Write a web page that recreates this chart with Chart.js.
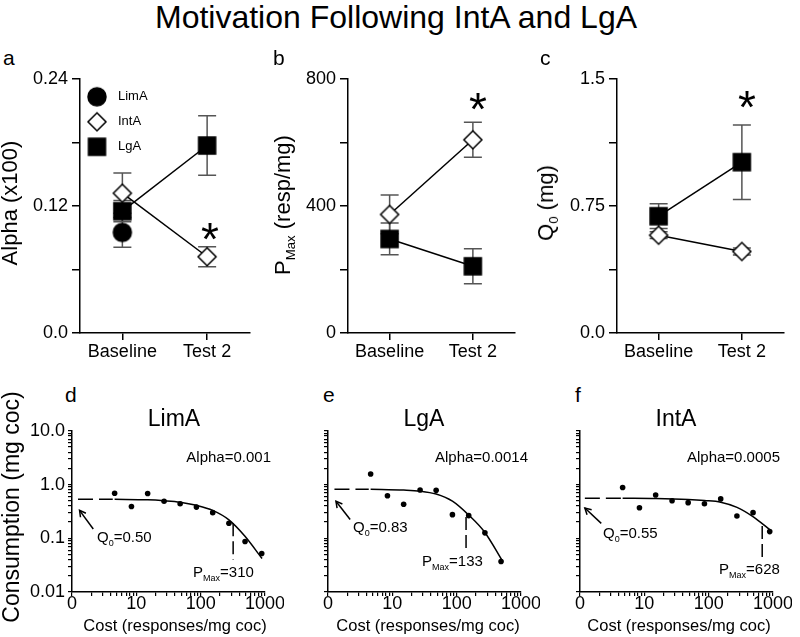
<!DOCTYPE html>
<html>
<head>
<meta charset="utf-8">
<script src="https://cdn.jsdelivr.net/npm/chart.js@4.4.1/dist/chart.umd.min.js"></script>
<style>
	body { margin: 0; background: #fff; }
	#figure { position: relative; width: 800px; height: 637px; overflow: hidden; font-family: "Liberation Sans", Arial, sans-serif; color: #000; }
	#figure canvas { position: absolute; }
	.txt { position: absolute; line-height: 1; white-space: nowrap; }
	.rot { position: absolute; line-height: 1; white-space: nowrap; transform: translate(-50%, -50%) rotate(-90deg); }
	.sub { font-size: 0.6em; position: relative; top: 0.4em; }
</style>
</head>
<body>
<div id="figure">
	<canvas id="panelA" width="240" height="306" style="left:20px;top:64px"></canvas>
	<canvas id="panelB" width="237" height="306" style="left:288px;top:64px"></canvas>
	<canvas id="panelC" width="237" height="306" style="left:557px;top:64px"></canvas>
	<canvas id="panelD" width="272" height="203" style="left:12px;top:417px"></canvas>
	<canvas id="panelE" width="222" height="203" style="left:318px;top:417px"></canvas>
	<canvas id="panelF" width="222" height="203" style="left:570px;top:417px"></canvas>
</div>
<script>
const family = '"Liberation Sans", Arial, sans-serif';

// top row: group means and SEM
const groups = ["Baseline", "Test 2"];
const alphaLimA = [0.095, null];
const alphaLimAErr = [0.014, null];
const alphaIntA = [0.132, 0.072];
const alphaIntAErr = [0.019, 0.0095];
const alphaLgA = [0.115, 0.177];
const alphaLgAErr = [0.01, 0.028];
const pmaxIntA = [373, 608];
const pmaxIntAErr = [61, 55];
const pmaxLgA = [296, 210];
const pmaxLgAErr = [50, 55];
const q0IntA = [0.577, 0.481];
const q0IntAErr = [0.02, 0.02];
const q0LgA = [0.689, 1.008];
const q0LgAErr = [0.073, 0.22];

const alphaTicks = [0, 0.06, 0.12, 0.18, 0.24];
const alphaTickLabels = ["0.0", "", "0.12", "", "0.24"];
const pmaxTicks = [0, 200, 400, 600, 800];
const pmaxTickLabels = ["0", "", "400", "", "800"];
const q0Ticks = [0, 0.375, 0.75, 1.125, 1.5];
const q0TickLabels = ["0.0", "", "0.75", "", "1.5"];

// bottom row: demand curves
const cost = [4.6, 8.4, 15, 27, 48, 86, 154, 275, 490, 890];
const limaUse = [0.69, 0.39, 0.68, 0.49, 0.44, 0.38, 0.30, 0.19, 0.087, 0.052];
const lgaUse = [1.57, 0.62, 0.43, 0.79, 0.78, 0.275, 0.264, 0.126, 0.037];
const intaUse = [0.88, 0.37, 0.64, 0.50, 0.46, 0.44, 0.54, 0.26, 0.30, 0.133];

const limaFitCost = [4.6, 15, 27, 48, 86, 154, 275, 485, 900];
const limaFit = [0.53, 0.52, 0.50, 0.47, 0.41, 0.33, 0.22, 0.11, 0.042];
const lgaFitCost = [4.6, 15, 27, 48, 86, 154, 275, 520];
const lgaFit = [0.82, 0.79, 0.755, 0.665, 0.49, 0.27, 0.128, 0.037];
const intaFitCost = [4.6, 15, 48, 86, 154, 276, 495, 900];
const intaFit = [0.555, 0.548, 0.526, 0.504, 0.47, 0.376, 0.25, 0.143];

const limaQ0Cost = [1.24, 4.3];
const limaQ0Use = [0.53, 0.53];
const lgaQ0Cost = [1.26, 4.3];
const lgaQ0Use = [0.82, 0.82];
const intaQ0Cost = [1.19, 4.4];
const intaQ0Use = [0.555, 0.555];

const limaPmaxCost = [320, 320];
const limaPmaxUse = [0.19, 0.04];
const lgaPmaxCost = [140, 140];
const lgaPmaxUse = [0.25, 0.066];
const intaPmaxCost = [680, 680];
const intaPmaxUse = [0.17, 0.043];

const limaArrowCost = [2.14, 1.31];
const limaArrowUse = [0.149, 0.331];
const lgaArrowCost = [2.21, 1.33];
const lgaArrowUse = [0.223, 0.49];
const intaArrowCost = [2.14, 1.19];
const intaArrowUse = [0.189, 0.365];

const decades = [1, 10, 100];
const costTicks = decades.flatMap(d => [1, 2, 3, 4, 5, 6, 7, 8, 9].map(k => k * d)).concat([1000]);
const costTickLabels = costTicks.map(v => ({ 1: "0", 10: "10", 100: "100", 1000: "1000" })[v] || "");
const useDecades = [0.01, 0.1, 1];
const useTicks = useDecades.flatMap(d => [1, 2, 3, 4, 5, 6, 7, 8, 9].map(k => k * d)).concat([10]);
const useTickLabels = useTicks.map(v => ({ 0.01: "0.01", 0.1: "0.1", 1: "1.0", 10: "10.0" })[v] || "");

function makeMarker(shape, size, fill) {
	const c = document.createElement("canvas");
	c.width = size + 4;
	c.height = size + 4;
	const g = c.getContext("2d");
	const m = c.width / 2;
	const h = size / 2;
	g.fillStyle = fill;
	g.strokeStyle = "#000";
	g.lineWidth = 1.5;
	g.beginPath();
	if (shape === "circle") {
		g.arc(m, m, h, 0, Math.PI * 2);
	}
	else if (shape === "diamond") {
		g.moveTo(m, m - h);
		g.lineTo(m + h, m);
		g.lineTo(m, m + h);
		g.lineTo(m - h, m);
		g.closePath();
	}
	else {
		g.rect(m - h, m - h, size, size);
	}
	g.fill();
	g.stroke();
	return c;
}

const circleMarker = makeMarker("circle", 18, "#000");
const diamondMarker = makeMarker("diamond", 18, "#fff");
const squareMarker = makeMarker("square", 17, "#000");

const errorBars = {
	id: "errorBars",
	beforeDatasetsDraw(chart) {
		const ctx = chart.ctx;
		const yScale = chart.scales.y;
		chart.data.datasets.forEach((dataset, i) => {
			if (!dataset.errors) {
				return;
			}
			const meta = chart.getDatasetMeta(i);
			meta.data.forEach((point, j) => {
				const value = dataset.data[j];
				const error = dataset.errors[j];
				if (value == null || error == null) {
					return;
				}
				const top = yScale.getPixelForValue(value + error);
				const bottom = yScale.getPixelForValue(value - error);
				ctx.save();
				ctx.strokeStyle = "#555";
				ctx.lineWidth = 1.5;
				ctx.beginPath();
				ctx.moveTo(point.x, top);
				ctx.lineTo(point.x, bottom);
				ctx.moveTo(point.x - 9, top);
				ctx.lineTo(point.x + 9, top);
				ctx.moveTo(point.x - 9, bottom);
				ctx.lineTo(point.x + 9, bottom);
				ctx.stroke();
				ctx.restore();
			});
		});
	}
};

// legend drawn inside the plot, top left, one row per dataset
const insideLegend = {
	id: "insideLegend",
	afterDraw(chart, args, options) {
		if (!options.show) {
			return;
		}
		const ctx = chart.ctx;
		const area = chart.chartArea;
		ctx.save();
		ctx.fillStyle = "#000";
		ctx.font = "13px " + family;
		ctx.textBaseline = "middle";
		chart.data.datasets.forEach((dataset, i) => {
			const marker = dataset.pointStyle;
			const cy = area.top + 18 + i * 25;
			const cx = area.left + 17;
			ctx.drawImage(marker, cx - marker.width / 2, cy - marker.height / 2);
			ctx.fillText(dataset.label, area.left + 38, cy);
		});
		ctx.restore();
	}
};

const arrowHeads = {
	id: "arrowHeads",
	afterDatasetsDraw(chart) {
		const ctx = chart.ctx;
		chart.data.datasets.forEach((dataset, i) => {
			if (!dataset.arrowHead) {
				return;
			}
			const pts = chart.getDatasetMeta(i).data;
			const tail = pts[0];
			const tip = pts[pts.length - 1];
			const angle = Math.atan2(tip.y - tail.y, tip.x - tail.x);
			ctx.save();
			ctx.strokeStyle = "#000";
			ctx.lineWidth = 1.5;
			ctx.beginPath();
			ctx.moveTo(tip.x - 7 * Math.cos(angle - 0.5), tip.y - 7 * Math.sin(angle - 0.5));
			ctx.lineTo(tip.x, tip.y);
			ctx.lineTo(tip.x - 7 * Math.cos(angle + 0.5), tip.y - 7 * Math.sin(angle + 0.5));
			ctx.stroke();
			ctx.restore();
		});
	}
};

function groupDataset(label, values, errors, marker) {
	return {
		label: label,
		data: values,
		errors: errors,
		borderColor: "#000",
		borderWidth: 1.5,
		pointStyle: marker,
		pointRadius: 9,
		clip: false
	};
}

function groupPanel(id, datasets, ticks, tickLabels, showLegend) {
	const context = document.getElementById(id).getContext("2d");
	return new Chart(context, {
		type: "line",
		data: {
			labels: groups,
			datasets: datasets
		},
		options: {
			responsive: false,
			devicePixelRatio: 1,
			animation: false,
			events: [],
			layout: {
				padding: { top: 10, right: 7, left: 0, bottom: 0 }
			},
			plugins: {
				title: { display: false },
				tooltip: { enabled: false },
				legend: { display: false },
				insideLegend: { show: showLegend }
			},
			scales: {
				x: {
					type: "category",
					offset: true,
					grid: { display: true, drawOnChartArea: false, drawTicks: true, tickLength: 7, color: "#000", lineWidth: 1.5 },
					border: { display: true, color: "#000", width: 1.5 },
					ticks: { color: "#000", padding: 1, maxRotation: 0, autoSkip: false, font: { family: family, size: 18 } },
					afterFit: scale => { scale.height = 37; }
				},
				y: {
					min: ticks[0],
					max: ticks[ticks.length - 1],
					afterBuildTicks: scale => { scale.ticks = ticks.map(v => ({ value: v })); },
					grid: { display: true, drawOnChartArea: false, drawTicks: true, tickLength: 8, color: "#000", lineWidth: 1.5 },
					border: { display: true, color: "#000", width: 1.5 },
					ticks: { color: "#000", padding: 4, font: { family: family, size: 18 }, callback: (value, index) => tickLabels[index] },
					afterFit: scale => { scale.width = 60; }
				}
			}
		},
		plugins: [errorBars, insideLegend]
	});
}

function points(xs, ys) {
	return xs.map((x, i) => ({ x: x, y: ys[i] }));
}

function lineSet(xs, ys, extra) {
	return Object.assign({
		data: points(xs, ys),
		showLine: true,
		pointRadius: 0,
		borderColor: "#000",
		borderWidth: 1.5,
		clip: false
	}, extra);
}

function demandPanel(id, use, fitCost, fit, q0Cost, q0Use, pmaxCost, pmaxUse, arrowCost, arrowUse, labels) {
	const context = document.getElementById(id).getContext("2d");
	const datasets = [
		{
			data: points(cost.slice(0, use.length), use),
			showLine: false,
			pointRadius: 2.8,
			pointBackgroundColor: "#000",
			pointBorderWidth: 0,
			clip: false
		},
		lineSet(fitCost, fit, { cubicInterpolationMode: "monotone" }),
		lineSet(q0Cost, q0Use, { borderDash: [15, 6] }),
		lineSet(pmaxCost, pmaxUse, { borderDash: [13, 5] }),
		lineSet(arrowCost, arrowUse, { arrowHead: true })
	];
	return new Chart(context, {
		type: "scatter",
		data: { datasets: datasets },
		options: {
			responsive: false,
			devicePixelRatio: 1,
			animation: false,
			events: [],
			layout: {
				padding: { top: 10, right: 7, left: 0, bottom: 0 }
			},
			plugins: {
				legend: { display: false },
				tooltip: { enabled: false }
			},
			scales: {
				x: {
					type: "logarithmic",
					min: 1,
					max: 1000,
					afterBuildTicks: scale => { scale.ticks = costTicks.map(v => ({ value: v })); },
					grid: { display: true, drawOnChartArea: false, drawTicks: true, tickLength: 4, color: "#000", lineWidth: 1.2 },
					border: { display: true, color: "#000", width: 1.5 },
					ticks: { color: "#000", padding: -1, maxRotation: 0, autoSkip: false, font: { family: family, size: 18, lineHeight: 1 }, callback: (value, index) => costTickLabels[index] },
					afterFit: scale => { scale.height = 28; }
				},
				y: {
					type: "logarithmic",
					min: 0.01,
					max: 10,
					afterBuildTicks: scale => { scale.ticks = useTicks.map(v => ({ value: v })); },
					grid: { display: true, drawOnChartArea: false, drawTicks: true, tickLength: 4, color: "#000", lineWidth: 1.2 },
					border: { display: true, color: "#000", width: 1.5 },
					ticks: { color: "#000", padding: 3, autoSkip: false, font: { family: family, size: 18 }, callback: (value, index) => labels ? useTickLabels[index] : "" },
					afterFit: scale => { scale.width = labels ? 60 : 10; }
				}
			}
		},
		plugins: [arrowHeads]
	});
}

const figure = document.getElementById("figure");

function addText(html, x, baseline, size, align) {
	const el = document.createElement("div");
	el.className = "txt";
	el.innerHTML = html;
	el.style.fontSize = size + "px";
	el.style.left = x + "px";
	el.style.top = (baseline - 0.8465 * size) + "px";
	if (align === "center") {
		el.style.transform = "translateX(-50%)";
	}
	else if (align === "right") {
		el.style.transform = "translateX(-100%)";
	}
	figure.appendChild(el);
}

function addRotated(html, cx, cy, size) {
	const el = document.createElement("div");
	el.className = "rot";
	el.innerHTML = html;
	el.style.fontSize = size + "px";
	el.style.left = cx + "px";
	el.style.top = cy + "px";
	figure.appendChild(el);
}

groupPanel("panelA", [
	groupDataset("LimA", alphaLimA, alphaLimAErr, circleMarker),
	groupDataset("IntA", alphaIntA, alphaIntAErr, diamondMarker),
	groupDataset("LgA", alphaLgA, alphaLgAErr, squareMarker)
], alphaTicks, alphaTickLabels, true);

groupPanel("panelB", [
	groupDataset("IntA", pmaxIntA, pmaxIntAErr, diamondMarker),
	groupDataset("LgA", pmaxLgA, pmaxLgAErr, squareMarker)
], pmaxTicks, pmaxTickLabels, false);

groupPanel("panelC", [
	groupDataset("IntA", q0IntA, q0IntAErr, diamondMarker),
	groupDataset("LgA", q0LgA, q0LgAErr, squareMarker)
], q0Ticks, q0TickLabels, false);

demandPanel("panelD", limaUse, limaFitCost, limaFit, limaQ0Cost, limaQ0Use, limaPmaxCost, limaPmaxUse, limaArrowCost, limaArrowUse, true);
demandPanel("panelE", lgaUse, lgaFitCost, lgaFit, lgaQ0Cost, lgaQ0Use, lgaPmaxCost, lgaPmaxUse, lgaArrowCost, lgaArrowUse, false);
demandPanel("panelF", intaUse, intaFitCost, intaFit, intaQ0Cost, intaQ0Use, intaPmaxCost, intaPmaxUse, intaArrowCost, intaArrowUse, false);

// titles and labels
addText("Motivation Following IntA and LgA", 396, 28, 32, "center");
addText("a", 3, 65, 21, "left");
addText("b", 273, 65, 21, "left");
addText("c", 540, 65, 21, "left");
addText("d", 65, 402, 21, "left");
addText("e", 323, 402, 21, "left");
addText("f", 575, 402, 21, "left");

addRotated("Alpha (x100)", 10, 203, 22);
addRotated('P<span class="sub">Max</span> (resp/mg)', 283, 205, 22);
addRotated('Q<span class="sub">0</span> (mg)', 546, 203, 22);
addRotated("Consumption (mg coc)", 11, 507, 23);

addText("*", 210, 255, 46, "center");
addText("*", 478, 125, 46, "center");
addText("*", 747, 123, 46, "center");

addText("LimA", 174, 426, 23, "center");
addText("LgA", 424, 426, 23, "center");
addText("IntA", 676, 426, 23, "center");

addText("Alpha=0.001", 271, 462, 15, "right");
addText("Alpha=0.0014", 528, 462, 15, "right");
addText("Alpha=0.0005", 780, 462, 15, "right");

addText('Q<span class="sub">0</span>=0.50', 97, 542, 15, "left");
addText('Q<span class="sub">0</span>=0.83', 353, 532, 15, "left");
addText('Q<span class="sub">0</span>=0.55', 603, 538, 15, "left");

addText('P<span class="sub">Max</span>=310', 193, 577, 15, "left");
addText('P<span class="sub">Max</span>=133', 422, 566, 15, "left");
addText('P<span class="sub">Max</span>=628', 719, 574, 15, "left");

addText("Cost (responses/mg coc)", 175, 631, 16.5, "center");
addText("Cost (responses/mg coc)", 428, 631, 16.5, "center");
addText("Cost (responses/mg coc)", 679, 631, 16.5, "center");
</script>
</body>
</html>
